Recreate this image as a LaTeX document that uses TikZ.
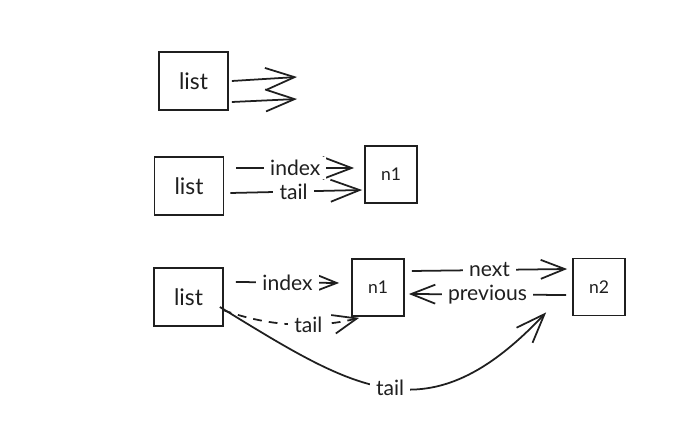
\documentclass[tikz,border=0pt]{standalone}
\usepackage{fontspec}
\setmainfont{Lato}
\usetikzlibrary{arrows.meta,calc}

\tikzset{
  box/.style={draw, line width=1pt, minimum width=1.38cm, minimum height=1.16cm, inner sep=0pt, font=\fontsize{13}{15}\selectfont},
  nbox/.style={box, minimum width=1.04cm, minimum height=1.14cm, font=\fontsize{10}{12}\selectfont},
  bigarrow/.style={line width=1pt, -{Straight Barb[length=5.8mm,width=4.4mm]}},
  smallarrow/.style={line width=1pt, -{Straight Barb[length=4.8mm,width=3.8mm]}},
  lbl/.style={fill=white, inner xsep=3.5pt, inner ysep=2pt, font=\fontsize{12}{14}\selectfont},
}

\begin{document}
\begin{tikzpicture}[x=0.02cm,y=-0.02cm,black!88]
\useasboundingbox (0,0) rectangle (688,421);

\node[box] (listA) at (193.5,81) {list};
\coordinate (endA) at (297,77);
\coordinate (endB) at (297,99);
\draw[bigarrow] ($(listA.east)+(3,0)$) -- (endA);
\draw[bigarrow] ($(listA.east)+(3,21)$) -- (endB);

\node[box] (listB) at (189,186) {list};
\node[nbox] (nB) at (391,174.5) {n1};
\draw[bigarrow] ($(listB.east)+(12,-18)$) -- node[lbl] {index} ($(nB.west)+(-10,-6.5)$);
\draw[bigarrow] ($(listB.east)+(6,7)$) -- node[lbl, pos=0.48] {tail} ($(nB.west)+(-2,15.5)$);

\node[box] (listC) at (188.5,297) {list};
\node[nbox] (nC) at (378,287.5) {n1};
\node[nbox] (nD) at (599,287) {n2};
\draw[smallarrow] ($(listC.east)+(12,-15)$) -- node[lbl] {index} ($(nC.west)+(-12,-4.5)$);
\draw[smallarrow] ($(nC.east)+(7,-16.5)$) -- node[lbl] {next} ($(nD.west)+(-5,-18)$);
\draw[smallarrow] ($(nD.west)+(-6,8)$) -- node[lbl] {previous} ($(nC.east)+(4,6.5)$);
\draw[smallarrow, dash pattern=on 5pt off 4pt] ($(listC.east)+(-1,13)$) .. controls +(50,18) and +(-40,10) .. node[lbl, pos=0.6] {tail} ($(nC.south west)+(8,1)$);
\draw[bigarrow] ($(listC.east)+(-4,10)$) .. controls +(137,84) and +(-118,125) .. node[lbl] {tail} ($(nD.south west)+(-26,-4)$);
\end{tikzpicture}
\end{document}
